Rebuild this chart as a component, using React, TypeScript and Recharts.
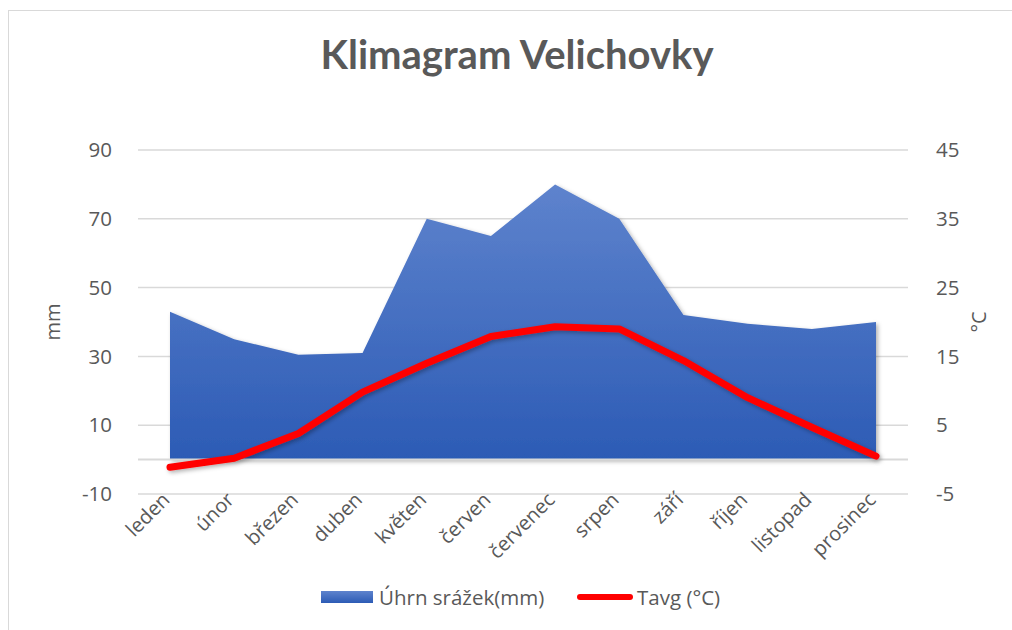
import React from "react";
import {
  ComposedChart,
  Area,
  Line,
  XAxis,
  YAxis,
  CartesianGrid,
  ReferenceLine,
} from "recharts";

const months = [
  "leden",
  "únor",
  "březen",
  "duben",
  "květen",
  "červen",
  "červenec",
  "srpen",
  "září",
  "říjen",
  "listopad",
  "prosinec",
];
const rain = [43, 35, 30.5, 31, 70, 65, 80, 70, 42, 39.5, 38, 40];
const tavg = [-1.1, 0.2, 3.8, 9.8, 14, 17.9, 19.3, 19, 14.4, 9, 4.7, 0.5];
const leftTicks = [-10, 10, 30, 50, 70, 90];
const rightTicks = [-5, 5, 15, 25, 35, 45];

const data = months.map((m, i) => ({ month: m, rain: rain[i], temp: tavg[i] }));

const FONT = "'Open Sans', sans-serif";
const TXT = "#595959";

const XTick = (props: any) => {
  const { x, y, payload } = props;
  const ax = x + 1;
  const ay = y - 1;
  return (
    <text
      x={ax}
      y={ay}
      transform={`rotate(-45 ${ax} ${ay})`}
      textAnchor="end"
      fontSize={20}
      fill={TXT}
      fontFamily={FONT}
    >
      {payload.value}
    </text>
  );
};

export default function App() {
  return (
    <div
      style={{
        position: "absolute",
        left: 0,
        top: 0,
        width: 1012,
        height: 630,
        background: "#fff",
        overflow: "hidden",
        fontFamily: FONT,
      }}
    >
      <div
        style={{
          position: "absolute",
          left: 8,
          top: 10,
          width: 1100,
          height: 700,
          borderLeft: "1.5px solid #d9d9d9",
          borderTop: "1.5px solid #d9d9d9",
        }}
      />
      <div
        style={{
          position: "absolute",
          left: 0,
          width: 1034,
          top: 30,
          textAlign: "center",
          fontFamily: "Lato, sans-serif",
          fontWeight: 700,
          fontSize: 40,
          color: TXT,
        }}
      >
        Klimagram Velichovky
      </div>
      <div style={{ position: "absolute", left: 0, top: 0 }}>
        <ComposedChart
          width={1012}
          height={630}
          data={data}
          margin={{ top: 150, right: 0, bottom: 0, left: 0 }}
        >
          <defs>
            <linearGradient id="rainGrad" x1="0" y1="0" x2="0" y2="1">
              <stop offset="0%" stopColor="#5e83cd" />
              <stop offset="100%" stopColor="#2c5bb5" />
            </linearGradient>
            <filter id="shadow" x="-5%" y="-5%" width="115%" height="115%">
              <feDropShadow dx="2" dy="2" stdDeviation="2" floodColor="#000" floodOpacity="0.3" />
            </filter>
          </defs>
          <CartesianGrid vertical={false} stroke="#d9d9d9" strokeWidth={1.5} />
          <XAxis
            dataKey="month"
            axisLine={false}
            tickLine={false}
            padding={{ left: 32, right: 32 }}
            height={136}
            interval={0}
            tick={<XTick />}
          />
          <YAxis
            domain={[-10, 90]}
            ticks={leftTicks}
            axisLine={false}
            tickLine={false}
            width={138}
            tick={{ fontSize: 20.5, fill: TXT, fontFamily: FONT }}
            tickMargin={20}
            label={{
              value: "mm",
              angle: -90,
              position: "insideLeft",
              offset: 53,
              style: { fontSize: 20, fill: TXT, fontFamily: FONT, textAnchor: "middle" },
            }}
          />
          <YAxis
            yAxisId="right"
            orientation="right"
            domain={[-5, 45]}
            ticks={rightTicks}
            axisLine={false}
            tickLine={false}
            width={104}
            tick={{ fontSize: 20.5, fill: TXT, fontFamily: FONT, textAnchor: "start" }}
            tickMargin={22}
            label={{
              value: "°C",
              angle: -90,
              position: "insideRight",
              offset: 33,
              style: { fontSize: 20, fill: TXT, fontFamily: FONT, textAnchor: "middle" },
            }}
          />
          <ReferenceLine y={0} stroke="#d9d9d9" strokeWidth={2} />
          <Area
            type="linear"
            dataKey="rain"
            baseValue={0}
            stroke="none"
            fill="url(#rainGrad)"
            fillOpacity={1}
            isAnimationActive={false}
            filter="url(#shadow)"
            activeDot={false}
          />
          <Line
            type="linear"
            dataKey="temp"
            yAxisId="right"
            stroke="#ff0000"
            strokeWidth={7}
            strokeLinecap="round"
            strokeLinejoin="round"
            dot={false}
            activeDot={false}
            isAnimationActive={false}
            filter="url(#shadow)"
          />
        </ComposedChart>
      </div>
      <div
        style={{
          position: "absolute",
          top: 591,
          left: 321,
          width: 52,
          height: 12,
          background: "linear-gradient(#5e83cd, #2c5bb5)",
        }}
      />
      <div
        style={{
          position: "absolute",
          top: 583,
          left: 379,
          fontSize: 20.5,
          color: TXT,
          fontFamily: FONT,
          whiteSpace: "nowrap",
        }}
      >
        Úhrn srážek(mm)
      </div>
      <div
        style={{
          position: "absolute",
          top: 594,
          left: 577,
          width: 56,
          height: 6,
          borderRadius: 3,
          background: "#ff0000",
        }}
      />
      <div
        style={{
          position: "absolute",
          top: 583,
          left: 637,
          fontSize: 20.5,
          color: TXT,
          fontFamily: FONT,
          whiteSpace: "nowrap",
        }}
      >
        Tavg (°C)
      </div>
    </div>
  );
}
